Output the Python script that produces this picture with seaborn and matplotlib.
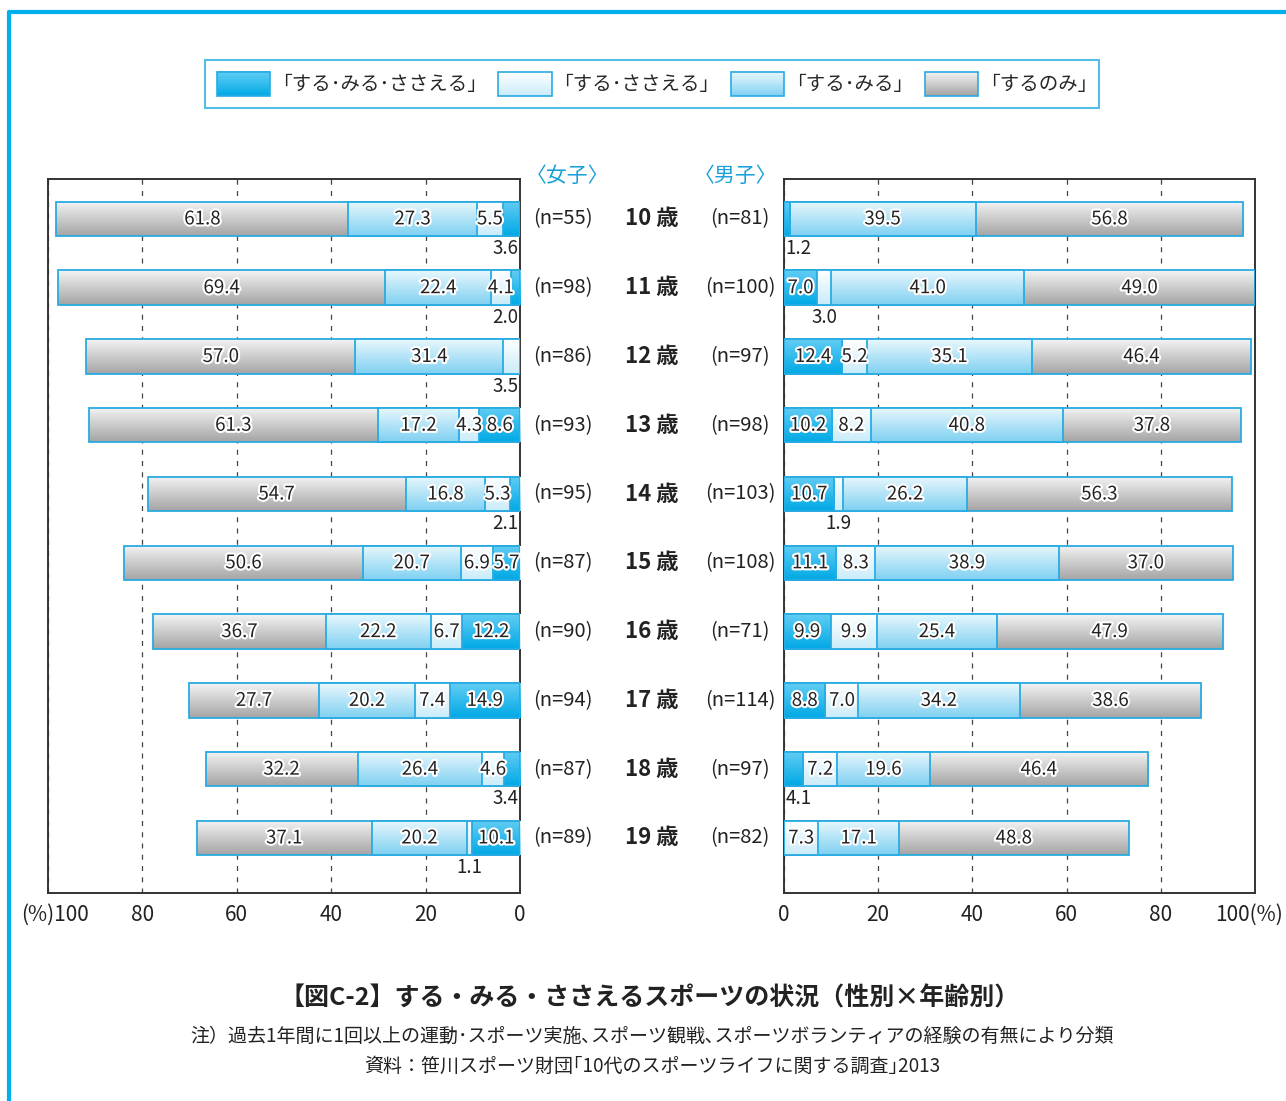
import numpy as np
import pandas as pd
import seaborn as sns
import matplotlib.pyplot as plt
import matplotlib.patheffects as pe
import matplotlib.transforms as mtransforms
from matplotlib.colors import to_rgb
from matplotlib.lines import Line2D
from matplotlib.patches import Patch, Rectangle
from matplotlib.legend_handler import HandlerBase

# data
ages = ['10', '11', '12', '13', '14', '15', '16', '17', '18', '19']
girls_n = [55, 98, 86, 93, 95, 87, 90, 94, 87, 89]
boys_n = [81, 100, 97, 98, 103, 108, 71, 114, 97, 82]

girls_sms = [3.6, 2.0, 0.0, 8.6, 2.1, 5.7, 12.2, 14.9, 3.4, 10.1]
girls_ss = [5.5, 4.1, 3.5, 4.3, 5.3, 6.9, 6.7, 7.4, 4.6, 1.1]
girls_sm = [27.3, 22.4, 31.4, 17.2, 16.8, 20.7, 22.2, 20.2, 26.4, 20.2]
girls_s = [61.8, 69.4, 57.0, 61.3, 54.7, 50.6, 36.7, 27.7, 32.2, 37.1]

boys_sms = [1.2, 7.0, 12.4, 10.2, 10.7, 11.1, 9.9, 8.8, 4.1, 0.0]
boys_ss = [0.0, 3.0, 5.2, 8.2, 1.9, 8.3, 9.9, 7.0, 7.2, 7.3]
boys_sm = [39.5, 41.0, 35.1, 40.8, 26.2, 38.9, 25.4, 34.2, 19.6, 17.1]
boys_s = [56.8, 49.0, 46.4, 37.8, 56.3, 37.0, 47.9, 38.6, 46.4, 48.8]

series = ['｢する･みる･ささえる｣', '｢する･ささえる｣', '｢する･みる｣', '｢するのみ｣']

# labels that sit under the bar instead of inside (series index, row)
girls_below = {(0, 0), (0, 1), (1, 2), (0, 4), (0, 8), (1, 9)}
boys_below = {(0, 0), (1, 1), (1, 4), (0, 8)}

# gradient colours (top, bottom) per series
grad_cols = [('#62cdf3', '#00a9e6'),
             ('#ffffff', '#c9ecfa'),
             ('#e8f8fd', '#80d0f1'),
             ('#f4f4f4', '#a4a4a4')]
edge = '#29abe2'

sns.set_theme(style='white')
plt.rcParams['font.family'] = ['Noto Sans CJK JP', 'DejaVu Sans']

fig = plt.figure(figsize=(12.86, 11.01), dpi=100)
axL = fig.add_axes([48/1286, 1-893/1101, 472/1286, 714/1101])
axR = fig.add_axes([784/1286, 1-893/1101, 471/1286, 714/1101])


def blend(ctop, cbot, t):
    return np.array(to_rgb(ctop))*(1-t) + np.array(to_rgb(cbot))*t


def gradient(ax, p, ctop, cbot, z):
    x0, y0, w, h = p.get_x(), p.get_y(), p.get_width(), p.get_height()
    if w <= 0:
        p.set_visible(False)
        return
    t = np.linspace(0, 1, 64)[:, None]
    img = blend(ctop, cbot, t)[:, None, :]
    im = ax.imshow(img, extent=(x0, x0+w, y0+h, y0), origin='upper',
                   aspect='auto', zorder=z, interpolation='bilinear')
    im.set_clip_path(p)
    p.set_facecolor('none')
    p.set_zorder(z+1)


class GradHandler(HandlerBase):
    def __init__(self, ctop, cbot):
        super().__init__()
        self.ctop, self.cbot = ctop, cbot

    def create_artists(self, legend, orig_handle, xdescent, ydescent, width, height,
                       fontsize, trans):
        arts = []
        n = 24
        for s in range(n):
            y = -ydescent + height*(1 - (s+1)/n)
            arts.append(Rectangle((-xdescent, y), width, height/n + 0.3,
                                  facecolor=blend(self.ctop, self.cbot, s/(n-1)),
                                  edgecolor='none', transform=trans))
        arts.append(Rectangle((-xdescent, -ydescent), width, height, facecolor='none',
                              edgecolor=edge, linewidth=1.2, transform=trans))
        return arts


def draw_panel(ax, vals, below, left_side):
    vals = np.array(vals)
    cum = np.cumsum(vals, axis=0)
    df = pd.DataFrame({'age': ages})
    for j, k in enumerate(range(3, -1, -1)):
        df['cum'] = cum[k]
        before = len(ax.patches)
        sns.barplot(data=df, x='cum', y='age', orient='h', color=grad_cols[k][1],
                    saturation=1, width=0.5, edgecolor=edge, linewidth=1.3, ax=ax)
        for p in ax.patches[before:]:
            gradient(ax, p, grad_cols[k][0], grad_cols[k][1], 2+2*j)

    stroke = [pe.withStroke(linewidth=3, foreground='white')]
    for k in range(4):
        for i in range(len(ages)):
            v = vals[k, i]
            if v <= 0:
                continue
            start = cum[k, i] - v
            if (k, i) in below:
                if start == 0:
                    ha = 'right' if left_side else 'left'
                    ax.text(0.3, i+0.43, f'{v:.1f}', ha=ha, va='center',
                            fontsize=13.5, color='#222', zorder=20)
                else:
                    ax.text(start+v/2, i+0.43, f'{v:.1f}', ha='center', va='center',
                            fontsize=13.5, color='#222', zorder=20)
            else:
                ax.text(start+v/2, i, f'{v:.1f}', ha='center', va='center',
                        fontsize=13.5, color='#222', zorder=20, path_effects=stroke)

    ax.set_ylim(9.8, -0.58)
    ax.set_yticks([])
    ax.set_xlabel('')
    ax.set_ylabel('')
    ax.set_axisbelow(True)
    ax.xaxis.grid(True, linestyle=(0, (4, 5)), color='#444', linewidth=0.9)
    ax.yaxis.grid(False)
    for s in ax.spines.values():
        s.set_color('#333')
        s.set_linewidth(1.4)
    ax.tick_params(axis='x', length=0, pad=8, labelsize=15, colors='#222')


draw_panel(axL, [girls_sms, girls_ss, girls_sm, girls_s], girls_below, True)
draw_panel(axR, [boys_sms, boys_ss, boys_sm, boys_s], boys_below, False)

axL.set_xlim(100, 0)
axL.set_xticks([100, 80, 60, 40, 20, 0])
axL.set_xticklabels(['(%)100', '80', '60', '40', '20', '0'])
axR.set_xlim(0, 100)
axR.set_xticks([0, 20, 40, 60, 80, 100])
axR.set_xticklabels(['0', '20', '40', '60', '80', '100(%)'])

# shift the end labels so "(%)" hangs outside like the original
lab = axL.get_xticklabels()[0]
lab.set_horizontalalignment('left')
lab.set_transform(lab.get_transform() + mtransforms.ScaledTranslation(-27/100, 0, fig.dpi_scale_trans))
lab = axR.get_xticklabels()[-1]
lab.set_horizontalalignment('right')
lab.set_transform(lab.get_transform() + mtransforms.ScaledTranslation(28/100, 0, fig.dpi_scale_trans))

# middle column: n and age
tr = mtransforms.blended_transform_factory(fig.transFigure, axL.transData)
for i, a in enumerate(ages):
    fig.text(563/1286, i, f'(n={girls_n[i]})', transform=tr, ha='center', va='center',
             fontsize=14.5, color='#222')
    fig.text(652/1286, i, f'{a} 歳', transform=tr, ha='center', va='center',
             fontsize=16, fontweight='bold', color='#222')
    fig.text(740/1286, i, f'(n={boys_n[i]})', transform=tr, ha='center', va='center',
             fontsize=14.5, color='#222')

fig.text(567/1286, 1-176/1101, '〈女子〉', ha='center', va='center', fontsize=15,
         color='#1aa0d8')
fig.text(736/1286, 1-176/1101, '〈男子〉', ha='center', va='center', fontsize=15,
         color='#1aa0d8')

# legend with gradient swatches
handles = [Patch(facecolor=grad_cols[k][1], edgecolor=edge) for k in range(4)]
hmap = {h: GradHandler(*grad_cols[k]) for k, h in enumerate(handles)}
leg = fig.legend(handles, series, handler_map=hmap, ncol=4, loc='center',
                 bbox_to_anchor=(652/1286, 1-84/1101), frameon=True, fancybox=False,
                 edgecolor=edge, fontsize=14, handlelength=2.75, handleheight=1.55,
                 columnspacing=1.1, handletextpad=0.6, borderpad=0.6)
leg.get_frame().set_linewidth(1.5)

# cyan page frame
fig.add_artist(Line2D([9/1286, 1], [1-12/1101, 1-12/1101], color='#00b0ec', lw=3,
                      transform=fig.transFigure))
fig.add_artist(Line2D([9/1286, 9/1286], [0, 1-12/1101], color='#00b0ec', lw=3,
                      transform=fig.transFigure))

fig.text(0.505, 1-998/1101, '【図C-2】する・みる・ささえるスポーツの状況（性別×年齢別）',
         ha='center', va='center', fontsize=18, fontweight='bold', color='#222')
fig.text(0.507, 1-1036/1101,
         '注）過去1年間に1回以上の運動･スポーツ実施､スポーツ観戦､スポーツボランティアの経験の有無により分類',
         ha='center', va='center', fontsize=13.7, color='#222')
fig.text(0.507, 1-1066/1101, '資料：笹川スポーツ財団｢10代のスポーツライフに関する調査｣2013',
         ha='center', va='center', fontsize=13.7, color='#222')

fig.savefig('out.png', dpi=100, facecolor='white')
